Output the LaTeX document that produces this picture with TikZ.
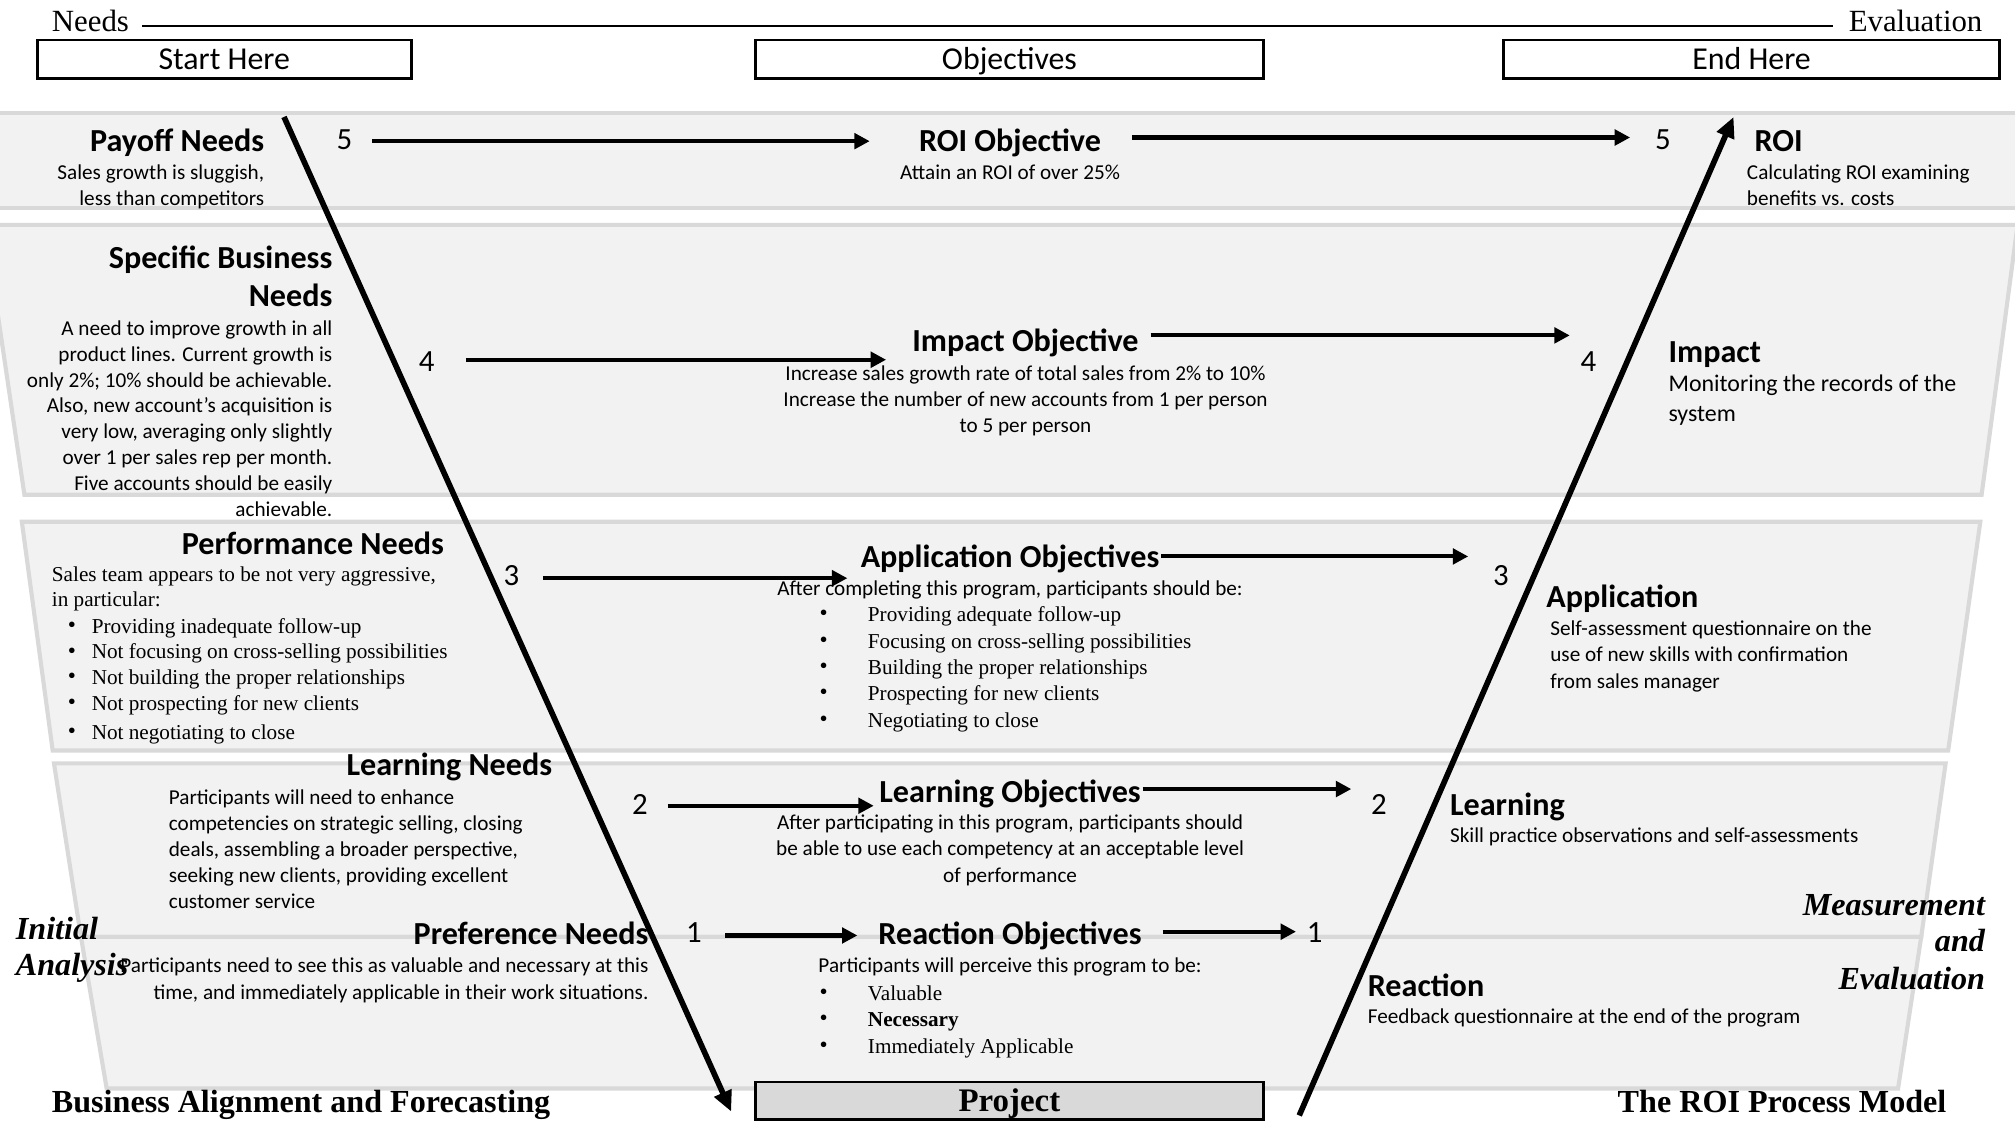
\documentclass[tikz,border=0pt]{standalone}
\usepackage{fontspec}
\setmainfont{Carlito}
\newfontfamily\tms{Liberation Serif}
\usetikzlibrary{arrows.meta,calc}
\definecolor{bandfill}{HTML}{F2F2F2}
\definecolor{bandline}{HTML}{D9D9D9}
\definecolor{projfill}{HTML}{D9D9D9}
\begin{document}
\begin{tikzpicture}[x=0.5pt,y=-0.5pt,
  band/.style={fill=bandfill,draw=bandline,line width=1.6pt},
  topbox/.style={draw=black,line width=1pt,inner sep=0,minimum height=15pt,text height=10.2pt,text depth=2.2pt,font=\fontsize{12.4}{14}\selectfont},
  projbox/.style={draw=black,fill=projfill,line width=1pt,inner sep=0,minimum width=197.5pt,minimum height=14.5pt,text height=10.6pt,text depth=2.1pt,font=\tms\bfseries\fontsize{12.8}{14}\selectfont},
  hd/.style={inner sep=0,font=\bfseries\fontsize{12.5}{15}\selectfont},
  bd/.style={inner sep=0,font=\fontsize{8.25}{10}\selectfont},
  bdl/.style={inner sep=0,font=\fontsize{9.3}{11}\selectfont},
  tm/.style={inner sep=0,font=\tms\fontsize{8.25}{10}\selectfont},
  bul/.style={inner sep=0,font=\tms\fontsize{9}{9}\selectfont},
  ser/.style={inner sep=0,font=\tms\fontsize{12}{14}\selectfont},
  serbi/.style={inner sep=0,font=\tms\bfseries\itshape\fontsize{12.5}{15}\selectfont},
  serb/.style={inner sep=0,font=\tms\bfseries\fontsize{12.5}{15}\selectfont},
  num/.style={inner sep=0,font=\fontsize{12}{14}\selectfont},
  harrow/.style={line width=1.6pt,-{Triangle[length=6pt,width=6pt]}},
  varrow/.style={line width=2.2pt,-{Triangle[length=8pt,width=7pt]}}]
\useasboundingbox (0,0) rectangle (1568,872);
\fill[white] (0,0) rectangle (1568,872);

% bands
\draw[band] (-10,88) rectangle (1578,162);
\draw[band] (-12,175) -- (1570,175) -- (1542,385) -- (19,385) -- cycle;
\draw[band] (17,406) -- (1541,406) -- (1516,584) -- (41,584) -- cycle;
\draw[band] (42,594) -- (1514,594) -- (1495,729) -- (63,729) -- cycle;
\draw[band] (63,729) -- (1495,729) -- (1477,847) -- (83,847) -- cycle;

% top
\node[ser,anchor=mid west] (needs) at (40,20) {Needs};
\node[ser,anchor=mid east] (evalt) at (1543,20) {Evaluation};
\draw[line width=0.8pt,shorten <=5pt,shorten >=6pt] (needs.mid east) -- (evalt.mid west);
\node[topbox,minimum width=145.5pt] (start) at (174.5,46) {Start Here};
\node[topbox,minimum width=197.5pt] (objs) at (785.5,46) {Objectives};
\node[topbox,minimum width=193pt] (endh) at (1363,46) {End Here};

% left column
\node[hd,anchor=mid east] (payoff) at (206,113) {Payoff Needs};
\node[bd,anchor=mid east] (pay1) at (206,135) {Sales growth is sluggish,};
\node[bd,anchor=mid east] (pay2) at (206,155) {less than competitors};

\node[hd,anchor=mid east] (sbn) at (259,204) {Specific Business};
\node[hd,anchor=mid east] (sbn0) at (259,234) {Needs};
\foreach \t [count=\i] in {{A need to improve growth in all},{product lines. Current growth is},{only 2\%; 10\% should be achievable.},{Also, new account’s acquisition is},{very low, averaging only slightly},{over 1 per sales rep per month.},{Five accounts should be easily},{achievable.}}
  \node[bd,anchor=mid east] (sbn\i) at (259,{256+(\i-1)*20.2}) {\t};

\node[hd,anchor=mid east] (pfn) at (346,427) {Performance Needs};
\node[tm,anchor=mid west] (pfn1) at (40,448) {Sales team appears to be not very aggressive,};
\node[tm,anchor=mid west] (pfn2) at (40,467) {in particular:};
\foreach \t/\yy [count=\i] in {{Providing inadequate follow-up}/488,{Not focusing on cross-selling possibilities}/508,{Not building the proper relationships}/528,{Not prospecting for new clients}/548,{Not negotiating to close}/571}{
  \node[bul] (pfb\i) at (56,\yy) {•};
  \node[tm,anchor=mid west] (pft\i) at (71,\yy) {\t};
}

\node[hd,anchor=mid east] (lrn) at (430,599) {Learning Needs};
\foreach \t [count=\i] in {{Participants will need to enhance},{competencies on strategic selling, closing},{deals, assembling a broader perspective,},{seeking new clients, providing excellent},{customer service}}
  \node[bd,anchor=mid west] (lrn\i) at (131,{621+(\i-1)*20.2}) {\t};

\node[hd,anchor=mid east] (prf) at (505,730) {Preference Needs};
\node[bd,anchor=mid east] (prf1) at (505,752) {Participants need to see this as valuable and necessary at this};
\node[bd,anchor=mid east] (prf2) at (505,773) {time, and immediately applicable in their work situations.};

% middle column
\node[hd,anchor=mid] (roio) at (786,113) {ROI Objective};
\node[bd,anchor=mid] (roio1) at (786,135) {Attain an ROI of over 25\%};

\node[hd,anchor=mid] (impo) at (798,269) {Impact Objective};
\foreach \t [count=\i] in {{Increase sales growth rate of total sales from 2\% to 10\%},{Increase the number of new accounts from 1 per person},{to 5 per person}}
  \node[bd,anchor=mid] (impo\i) at (798,{291+(\i-1)*20.3}) {\t};

\node[hd,anchor=mid] (appo) at (786,437) {Application Objectives};
\node[bd,anchor=mid] (appo0) at (786,459) {After completing this program, participants should be:};
\foreach \t/\yy [count=\i] in {{Providing adequate follow-up}/479,{Focusing on cross-selling possibilities}/500,{Building the proper relationships}/520,{Prospecting for new clients}/540,{Negotiating to close}/561}{
  \node[bul] (apb\i) at (641,\yy) {•};
  \node[tm,anchor=mid west] (apt\i) at (675,\yy) {\t};
}

\node[hd,anchor=mid] (lrno) at (786,620) {Learning Objectives};
\foreach \t [count=\i] in {{After participating in this program, participants should},{be able to use each competency at an acceptable level},{of performance}}
  \node[bd,anchor=mid] (lrno\i) at (786,{641+(\i-1)*20.3}) {\t};

\node[hd,anchor=mid] (reao) at (786,730) {Reaction Objectives};
\node[bd,anchor=mid] (reao0) at (786,752) {Participants will perceive this program to be:};
\foreach \t/\yy [count=\i] in {{Valuable}/774,{\bfseries Necessary}/794,{Immediately Applicable}/815}{
  \node[bul] (rob\i) at (641,\yy) {•};
  \node[tm,anchor=mid west] (rot\i) at (675,\yy) {\t};
}

% right column
\node[hd,anchor=mid west] (roi) at (1365,113) {ROI};
\node[bd,anchor=mid west] (roi1) at (1359,135) {Calculating ROI examining};
\node[bd,anchor=mid west] (roi2) at (1359,155) {benefits vs. costs};

\node[hd,anchor=mid west] (imp) at (1298,277) {Impact};
\node[bdl,anchor=mid west] (imp1) at (1298,300) {Monitoring the records of the};
\node[bdl,anchor=mid west] (imp2) at (1298,323) {system};

\node[hd,anchor=mid west] (app) at (1203,468) {Application};
\foreach \t [count=\i] in {{Self-assessment questionnaire on the},{use of new skills with confirmation},{from sales manager}}
  \node[bd,anchor=mid west] (app\i) at (1206,{490+(\i-1)*20.3}) {\t};

\node[hd,anchor=mid west] (lrnr) at (1128,630) {Learning};
\node[bd,anchor=mid west] (lrnr1) at (1128,651) {Skill practice observations and self-assessments};

\node[hd,anchor=mid west] (rea) at (1064,771) {Reaction};
\node[bd,anchor=mid west] (rea1) at (1064,792) {Feedback questionnaire at the end of the program};

% side and bottom titles
\node[serbi,anchor=mid west] (ini1) at (12,726) {Initial};
\node[serbi,anchor=mid west] (ini2) at (12,754) {Analysis};
\node[serbi,anchor=mid east] (mea1) at (1545,708) {Measurement};
\node[serbi,anchor=mid east] (mea2) at (1545,736) {and};
\node[serbi,anchor=mid east] (mea3) at (1545,765) {Evaluation};
\node[serb,anchor=mid west] (baf) at (40,861) {Business Alignment and Forecasting};
\node[serb,anchor=mid east] (rpm) at (1515,861) {The ROI Process Model};
\node[projbox] (proj) at (785.5,856.5) {Project};

% numbers
\node[num] (n5L) at (268,109) {5};
\node[num] (n4L) at (332,281) {4};
\node[num] (n3L) at (398,448) {3};
\node[num] (n2L) at (498,626) {2};
\node[num] (n1L) at (540,726) {1};
\node[num] (n5R) at (1294,109) {5};
\node[num] (n4R) at (1236,281) {4};
\node[num] (n3R) at (1168,448) {3};
\node[num] (n2R) at (1073,626) {2};
\node[num] (n1R) at (1023,726) {1};

% horizontal arrows: start points and end x positions
\coordinate (a5s) at ($(n5L.mid east)+(15,-2)$);
\coordinate (a5e) at ($(roio.mid west)+(-38,0)$);
\coordinate (b5s) at ($(roio.mid east)+(24,-6)$);
\coordinate (b5e) at ($(n5R.mid west)+(-19,0)$);
\coordinate (a4s) at ($(n4L.mid east)+(24,-4)$);
\coordinate (a4e) at ($(impo.mid west)+(-20,0)$);
\coordinate (b4s) at ($(impo.mid east)+(9,-8)$);
\coordinate (b4e) at ($(n4R.mid west)+(-8,0)$);
\coordinate (a3s) at ($(n3L.mid east)+(18,-1)$);
\coordinate (a3e) at ($(appo.mid west)+(-10,0)$);
\coordinate (b3s) at ($(appo.mid east)+(1,-4)$);
\coordinate (b3e) at ($(n3R.mid west)+(-19,0)$);
\coordinate (a2s) at ($(n2L.mid east)+(15,-2)$);
\coordinate (a2e) at ($(lrno.mid west)+(-4,0)$);
\coordinate (b2s) at ($(lrno.mid east)+(1,-6)$);
\coordinate (b2e) at ($(n2R.mid west)+(-15,0)$);
\coordinate (a1s) at ($(n1L.mid east)+(18,-1)$);
\coordinate (a1e) at ($(reao.mid west)+(-16,0)$);
\coordinate (b1s) at ($(reao.mid east)+(16,-5)$);
\coordinate (b1e) at ($(n1R.mid west)+(-8,0)$);
\foreach \r in {a5,b5,a4,b4,a3,b3,a2,b2,a1,b1}
  \draw[harrow] (\r s) -- (\r s -| \r e);

% V arrows
\draw[varrow] ($(start.south)+(46.5,29)$) -- ($(proj.west)+(-18,8.5)$);
\draw[varrow] ($(proj.east)+(27,11.5)$) -- ($(endh.south)+(-14,29)$);
\end{tikzpicture}
\end{document}
